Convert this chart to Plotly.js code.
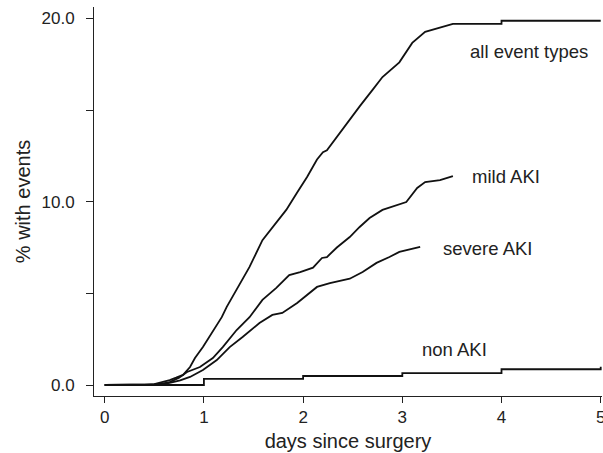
<!DOCTYPE html>
<html>
<head>
<meta charset="utf-8">
<script src="https://cdn.plot.ly/plotly-3.0.1.min.js"></script>
<style>html,body{margin:0;padding:0;background:#fff;}#chart{width:603px;height:453px;}</style>
</head>
<body>
<div id="chart"></div>
<script>
// days since surgery (x) and % with events (y) for each curve
var allX = [0, 0.4, 0.5, 0.58, 0.655, 0.72, 0.79, 0.86, 0.91, 0.99, 1.09, 1.18, 1.23, 1.33, 1.46, 1.59, 1.73, 1.83, 1.94, 2.04, 2.14, 2.2, 2.24, 2.37, 2.47, 2.57, 2.70, 2.80, 2.97, 3.10, 3.23, 3.38, 3.51, 4.0, 4.0, 5.0];
var allY = [0, 0, 0.05, 0.15, 0.27, 0.4, 0.55, 0.98, 1.47, 2.07, 2.9, 3.7, 4.26, 5.18, 6.44, 7.9, 8.84, 9.55, 10.5, 11.35, 12.3, 12.7, 12.8, 13.75, 14.5, 15.2, 16.1, 16.8, 17.6, 18.66, 19.26, 19.5, 19.7, 19.7, 19.87, 19.87];

var mildX = [0, 0.42, 0.5, 0.58, 0.655, 0.75, 0.83, 0.96, 1.09, 1.19, 1.33, 1.46, 1.59, 1.73, 1.86, 1.97, 2.10, 2.19, 2.24, 2.34, 2.47, 2.57, 2.67, 2.80, 2.94, 3.04, 3.15, 3.23, 3.38, 3.51];
var mildY = [0, 0, 0.03, 0.08, 0.16, 0.4, 0.71, 0.98, 1.47, 2.07, 3.0, 3.7, 4.64, 5.3, 6.0, 6.16, 6.4, 6.93, 6.98, 7.5, 8.07, 8.62, 9.11, 9.55, 9.82, 9.98, 10.75, 11.07, 11.18, 11.4];

var severeX = [0, 0.45, 0.55, 0.655, 0.76, 0.86, 0.99, 1.13, 1.26, 1.39, 1.56, 1.69, 1.79, 1.94, 2.04, 2.14, 2.27, 2.47, 2.60, 2.74, 2.87, 2.97, 3.18];
var severeY = [0, 0, 0.03, 0.11, 0.25, 0.44, 0.82, 1.36, 2.07, 2.62, 3.38, 3.82, 3.93, 4.47, 4.9, 5.35, 5.56, 5.8, 6.16, 6.66, 6.98, 7.26, 7.53];

var nonX = [0, 1, 2, 3, 4, 5, 5];
var nonY = [0, 0.33, 0.49, 0.65, 0.86, 0.86, 1.0];

var curveLabels = ["all event types", "mild AKI", "severe AKI", "non AKI"];
var labelX = [4.28, 4.05, 3.86, 3.53];
var labelY = [18.17, 11.35, 7.42, 1.91];

var xTicks = [0, 1, 2, 3, 4, 5];
var yTicks = [0, 5, 10, 15, 20];
var yTickText = ["0.0", "", "10.0", "", "20.0"];

var lineStyle = {color: "#111111", width: 1.8};
var traces = [
  {x: allX, y: allY, mode: "lines", line: Object.assign({shape: "linear"}, lineStyle)},
  {x: mildX, y: mildY, mode: "lines", line: Object.assign({shape: "linear"}, lineStyle)},
  {x: severeX, y: severeY, mode: "lines", line: Object.assign({shape: "linear"}, lineStyle)},
  {x: nonX, y: nonY, mode: "lines", line: Object.assign({shape: "hv"}, lineStyle)}
];

var annotations = curveLabels.map(function (t, i) {
  return {x: labelX[i], y: labelY[i], xref: "x", yref: "y", text: t, showarrow: false,
          font: {size: 18.5, color: "#222222"}};
});

var layout = {
  width: 603, height: 453,
  margin: {l: 94, r: 1, t: 7, b: 57, pad: 0},
  paper_bgcolor: "#ffffff", plot_bgcolor: "#ffffff",
  showlegend: false,
  font: {family: "Liberation Sans, Arial, sans-serif", color: "#222222", size: 17},
  xaxis: {
    range: [-0.108, 5.013], showgrid: false, zeroline: false,
    showline: true, linecolor: "#222222", linewidth: 1,
    ticks: "outside", ticklen: 6, tickwidth: 1, tickcolor: "#222222",
    tickvals: xTicks, ticktext: xTicks.map(String),
    tickfont: {size: 17}, ticklabeloverflow: "allow",
    title: {text: "days since surgery", font: {size: 20}, standoff: 7}
  },
  yaxis: {
    range: [-0.6, 20.62], showgrid: false, zeroline: false,
    showline: true, linecolor: "#222222", linewidth: 1,
    ticks: "outside", ticklen: 7, tickwidth: 1, tickcolor: "#222222",
    tickvals: yTicks, ticktext: yTickText,
    tickfont: {size: 17}, ticklabelstandoff: 8,
    title: {text: "% with events", font: {size: 20}, standoff: 5}
  },
  annotations: annotations
};

Plotly.newPlot("chart", traces, layout, {displayModeBar: false, staticPlot: true});
</script>
</body>
</html>
